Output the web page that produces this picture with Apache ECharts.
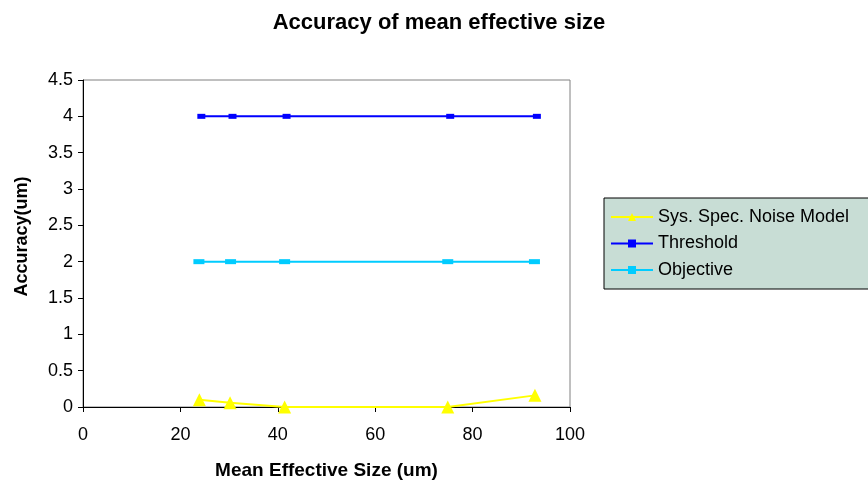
<!DOCTYPE html>
<html><head><meta charset="utf-8">
<script src="https://cdn.jsdelivr.net/npm/echarts@6/dist/echarts.min.js"></script>
<style>html,body{margin:0;padding:0;background:#fff}#c{width:868px;height:487px}</style>
</head><body><div id="c"></div>
<script>
const sysX = [23.9, 30.2, 41.4, 74.9, 92.8];
const sysY = [0.10, 0.06, 0.00, 0.00, 0.16];
const thrX = [24.3, 30.7, 41.8, 75.4, 93.2];
const thrY = [4, 4, 4, 4, 4];
const objX = [23.8, 30.3, 41.4, 74.9, 92.7];
const objY = [2, 2, 2, 2, 2];
const pairs = (xs, ys) => xs.map((x, i) => [x, ys[i]]);
const F = 'Liberation Sans, Arial, sans-serif';
const chart = echarts.init(document.getElementById('c'), null, {renderer: 'canvas'});
chart.setOption({
  animation: false,
  textStyle: {fontFamily: F},
  title: {text: 'Accuracy of mean effective size', left: 434, textAlign: 'center', top: 7,
    textStyle: {fontFamily: F, fontSize: 22, fontWeight: 'bold', color: '#000'}},
  grid: {left: 83, right: 298, top: 80, bottom: 80, show: true, borderColor: '#808080', borderWidth: 1},
  legend: {orient: 'vertical', left: 604, top: 198,
    backgroundColor: '#c8ddd5', borderColor: '#000', borderWidth: 1, padding: [10, 24, 10, 6],
    itemGap: 8.5, itemWidth: 42, itemHeight: 10,
    textStyle: {fontFamily: F, fontSize: 18, color: '#000'},
    data: ['Sys. Spec. Noise Model', 'Threshold', 'Objective']},
  xAxis: {type: 'value', min: 0, max: 100, interval: 20,
    name: 'Mean Effective Size (um)', nameLocation: 'middle', nameGap: 54,
    nameTextStyle: {fontFamily: F, fontSize: 19, fontWeight: 'bold', color: '#000'},
    axisLine: {onZero: false, lineStyle: {color: '#000', width: 1}},
    axisTick: {show: true, length: 5, lineStyle: {color: '#000'}},
    axisLabel: {fontFamily: F, fontSize: 18, color: '#000', margin: 19},
    splitLine: {show: false}},
  yAxis: {type: 'value', min: 0, max: 4.5, interval: 0.5,
    name: 'Accuracy(um)', nameLocation: 'middle', nameGap: 52, nameRotate: 90,
    nameTextStyle: {fontFamily: F, fontSize: 18, fontWeight: 'bold', color: '#000', padding: [0, 0, 0, 14]},
    axisLine: {show: true, lineStyle: {color: '#000', width: 1}},
    axisTick: {show: true, length: 5, lineStyle: {color: '#000'}},
    axisLabel: {fontFamily: F, fontSize: 18, color: '#000', margin: 10},
    splitLine: {show: false}},
  series: [
    {name: 'Sys. Spec. Noise Model', type: 'line', data: pairs(sysX, sysY),
      symbol: 'triangle', symbolSize: 13, lineStyle: {color: '#ffff00', width: 2},
      itemStyle: {color: '#ffff00'}},
    {name: 'Threshold', type: 'line', data: pairs(thrX, thrY),
      symbol: 'rect', symbolSize: [8, 5], lineStyle: {color: '#0000ff', width: 2},
      itemStyle: {color: '#0000ff'}},
    {name: 'Objective', type: 'line', data: pairs(objX, objY),
      symbol: 'rect', symbolSize: [11, 5], lineStyle: {color: '#00ccff', width: 2},
      itemStyle: {color: '#00ccff'}}
  ]
});
</script></body></html>
